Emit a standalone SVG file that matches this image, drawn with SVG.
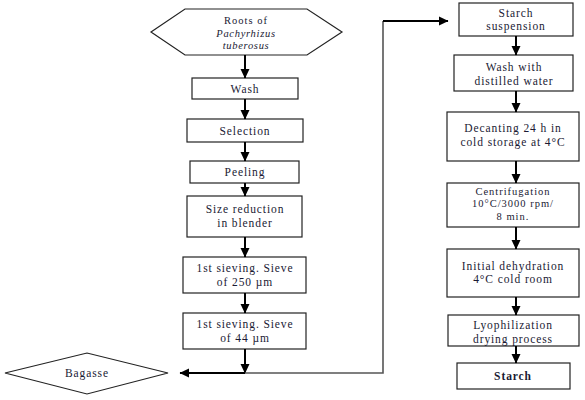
<svg xmlns="http://www.w3.org/2000/svg" width="585" height="400" viewBox="0 0 585 400">
<style>
.box{fill:#fff;stroke:#222;stroke-width:1.2}
.t{font-family:"Liberation Serif","Times New Roman",serif;font-size:11.5px;letter-spacing:0.9px;fill:#1a1a33;text-anchor:middle}
.s{font-size:10.5px;letter-spacing:1px}
.it{font-style:italic;letter-spacing:0.7px}
.b{font-weight:bold}
.c{fill:none;stroke:#000;stroke-width:2}
.g{fill:none;stroke:#555;stroke-width:1.6}
</style>
<defs>
<marker id="ah" markerWidth="10" markerHeight="10" viewBox="0 0 10 10" refX="9" refY="5" orient="auto" markerUnits="userSpaceOnUse">
<path d="M0,0.5 L9.5,5 L0,9.5 Z" fill="#000"/>
</marker>
</defs>
<rect width="585" height="400" fill="#fff"/>
<g id="roots"><polygon class="box" points="151,32 185,9 307,9 342,32 307,55 185,55"/>
<text class="t s" x="246" y="24">Roots of</text><text class="t s it" x="246" y="36.5">Pachyrhizus</text><text class="t s it" x="246" y="49">tuberosus</text></g>
<g id="wash"><rect class="box" x="192" y="78" width="106" height="21"/><text class="t" x="245" y="93">Wash</text></g>
<g id="selection"><rect class="box" x="187" y="119" width="116" height="23"/><text class="t" x="245" y="135">Selection</text></g>
<g id="peeling"><rect class="box" x="190" y="161" width="109" height="22"/><text class="t" x="245" y="176">Peeling</text></g>
<g id="size"><rect class="box" x="187" y="196" width="115" height="41"/><text class="t" x="245" y="213">Size reduction</text><text class="t" x="245" y="227">in blender</text></g>
<g id="sieve250"><rect class="box" x="183" y="257" width="123" height="36"/><text class="t" x="245" y="272">1st sieving. Sieve</text><text class="t" x="245" y="286">of 250 µm</text></g>
<g id="sieve44"><rect class="box" x="183" y="313" width="123" height="36"/><text class="t" x="245" y="328">1st sieving. Sieve</text><text class="t" x="245" y="342">of 44 µm</text></g>
<g id="bagasse"><polygon class="box" points="5,373 87,353 168,373 87,394"/><text class="t" x="87" y="377">Bagasse</text></g>
<g id="suspension"><rect class="box" x="459" y="3" width="114" height="33"/><text class="t" x="516" y="16.5">Starch</text><text class="t" x="516" y="30">suspension</text></g>
<g id="washdw"><rect class="box" x="454" y="55" width="119" height="36"/><text class="t" x="514" y="71">Wash with</text><text class="t" x="514" y="85">distilled water</text></g>
<g id="decant"><rect class="box" x="447" y="112" width="132" height="49"/><text class="t" x="513" y="132">Decanting 24 h in</text><text class="t" x="513" y="146">cold storage at 4°C</text></g>
<g id="centri"><rect class="box" x="447" y="183" width="132" height="44"/><text class="t s" x="513" y="194.5">Centrifugation</text><text class="t s" x="513" y="207">10°C/3000 rpm/</text><text class="t s" x="513" y="219.5">8 min.</text></g>
<g id="dehyd"><rect class="box" x="447" y="249" width="132" height="48"/><text class="t" x="513" y="269.5">Initial dehydration</text><text class="t" x="513" y="283">4°C cold room</text></g>
<g id="lyo"><rect class="box" x="448" y="315" width="131" height="31"/><text class="t" x="513" y="329">Lyophilization</text><text class="t" x="513" y="342.5">drying process</text></g>
<g id="starch"><rect class="box" x="457" y="363" width="113" height="26"/><text class="t b" x="513" y="380">Starch</text></g>
<g id="connectors">
<line class="c" x1="245" y1="55" x2="245" y2="78" marker-end="url(#ah)"/>
<line class="c" x1="245" y1="99" x2="245" y2="119" marker-end="url(#ah)"/>
<line class="c" x1="245" y1="142" x2="245" y2="161" marker-end="url(#ah)"/>
<line class="c" x1="245" y1="183" x2="245" y2="196" marker-end="url(#ah)"/>
<line class="c" x1="245" y1="237" x2="245" y2="257" marker-end="url(#ah)"/>
<line class="c" x1="245" y1="293" x2="245" y2="313" marker-end="url(#ah)"/>
<line class="c" x1="245" y1="349" x2="245" y2="373" marker-end="url(#ah)"/>
<line class="c" x1="245" y1="373" x2="180" y2="373" marker-end="url(#ah)"/>
<polyline class="g" points="245,373 383,373 383,21"/>
<line class="c" x1="383" y1="21" x2="448" y2="21" marker-end="url(#ah)"/>
<line class="c" x1="516" y1="36" x2="516" y2="55" marker-end="url(#ah)"/>
<line class="c" x1="516" y1="91" x2="516" y2="112" marker-end="url(#ah)"/>
<line class="c" x1="516" y1="161" x2="516" y2="183" marker-end="url(#ah)"/>
<line class="c" x1="516" y1="227" x2="516" y2="249" marker-end="url(#ah)"/>
<line class="c" x1="516" y1="297" x2="516" y2="315" marker-end="url(#ah)"/>
<line class="c" x1="516" y1="346" x2="516" y2="363" marker-end="url(#ah)"/>
</g>
</svg>
